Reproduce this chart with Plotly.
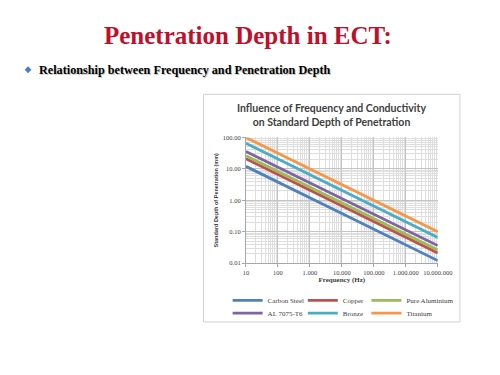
import plotly.graph_objects as go

# ---- data ----
frequency_hz = [10, 100, 1000, 10000, 100000, 1000000, 10000000]
carbon_steel = [12.0, 3.8, 1.2, 0.38, 0.12, 0.038, 0.012]
copper = [21.0, 6.6, 2.1, 0.66, 0.21, 0.066, 0.021]
pure_aluminium = [26.0, 8.2, 2.6, 0.82, 0.26, 0.082, 0.026]
al_7075_t6 = [36.0, 11.4, 3.6, 1.14, 0.36, 0.114, 0.036]
bronze = [65.0, 20.6, 6.5, 2.06, 0.65, 0.206, 0.065]
titanium = [100.0, 31.6, 10.0, 3.16, 1.0, 0.316, 0.1]

x_tickvals = [10, 100, 1000, 10000, 100000, 1000000, 10000000]
x_ticktext = ["10", "100", "1.000", "10.000", "100.000", "1.000.000", "10.000.000"]
y_tickvals = [0.01, 0.1, 1, 10, 100]
y_ticktext = ["0.01", "0.10", "1.00", "10.00", "100.00"]

series_names = ["Carbon Steel", "Copper", "Pure Aluminium", "AL 7075-T6", "Bronze", "Titanium"]
series_values = [carbon_steel, copper, pure_aluminium, al_7075_t6, bronze, titanium]
series_colors = ["#4F81BD", "#C0504D", "#9BBB59", "#8064A2", "#4BACC6", "#F79646"]

W, H = 500, 375
def px(x):
    return x / W
def py(y):
    return 1 - y / H

# legend grid: 3 columns x 2 rows (pixel anchors)
legend_cols = [233, 311, 377]
legend_rows = [302, 315]

fig = go.Figure()
legend_layouts = {}
serif = "Liberation Serif"
for i, (name, vals, color) in enumerate(zip(series_names, series_values, series_colors)):
    key = "legend" if i == 0 else f"legend{i + 1}"
    fig.add_trace(go.Scatter(
        x=frequency_hz, y=vals, mode="lines", name=name,
        line=dict(color=color, width=2.8), legend=key,
    ))
    legend_layouts[key] = dict(
        orientation="v", x=px(legend_cols[i % 3]), y=py(legend_rows[i // 3]),
        xanchor="left", yanchor="middle",
        font=dict(family=serif, size=7, color="#404040"),
        itemwidth=30, bgcolor="rgba(0,0,0,0)", borderwidth=0,
    )

tick_font = dict(family=serif, size=6.5, color="#404040")

fig.update_layout(
    width=W, height=H,
    margin=dict(l=0, r=0, t=0, b=0),
    paper_bgcolor="white", plot_bgcolor="white",
    showlegend=True,
    xaxis=dict(
        type="log", range=[1, 7], domain=[px(252), px(451)],
        tickvals=x_tickvals, ticktext=x_ticktext, tickfont=tick_font,
        showgrid=True, gridcolor="#c4c4c4", gridwidth=1,
        minor=dict(showgrid=True, gridcolor="#dedede", gridwidth=0.7, dtick="D1"),
        showline=True, linecolor="#a6a6a6", linewidth=1,
        ticks="outside", ticklen=3, tickcolor="#a6a6a6",
        title=dict(text="<b>Frequency (Hz)</b>", font=dict(family=serif, size=7, color="#404040"),
                   standoff=2),
        zeroline=False, anchor="y",
    ),
    yaxis=dict(
        type="log", range=[-2, 2], domain=[py(264), py(136)],
        tickvals=y_tickvals, ticktext=y_ticktext, tickfont=tick_font,
        showgrid=True, gridcolor="#c4c4c4", gridwidth=1,
        minor=dict(showgrid=True, gridcolor="#dedede", gridwidth=0.7, dtick="D1"),
        showline=True, linecolor="#a6a6a6", linewidth=1,
        ticks="outside", ticklen=3, tickcolor="#a6a6a6",
        title=dict(text="<b>Standard Depth of Penetration (mm)</b>",
                   font=dict(family="Liberation Sans", size=5.5, color="#404040"), standoff=3),
        zeroline=False, anchor="x",
    ),
    shapes=[
        # chart box border
        dict(type="rect", xref="paper", yref="paper",
             x0=px(208), x1=px(474), y0=py(324), y1=py(92),
             line=dict(color="#d0d0d0", width=1), fillcolor="rgba(0,0,0,0)", layer="below"),
        # bullet diamond
        dict(type="path", xref="paper", yref="paper",
             path=f"M {px(26)} {py(63.5)} L {px(29.5)} {py(67)} L {px(26)} {py(70.5)} L {px(22.5)} {py(67)} Z",
             fillcolor="#4A7EC8", line=dict(width=0)),
    ],
    annotations=[
        dict(text="<b>Penetration Depth in ECT:</b>", x=px(254), y=py(32), xref="paper", yref="paper",
             xanchor="center", yanchor="middle", showarrow=False,
             font=dict(family=serif, size=25, color="#C00F2A")),
        dict(text="<b>Relationship between Frequency and Penetration Depth</b>",
             x=px(35.8), y=py(67.8), xref="paper", yref="paper",
             xanchor="left", yanchor="middle", showarrow=False,
             font=dict(family=serif, size=12.2, color="#c8c8c8")),
        dict(text="<b>Relationship between Frequency and Penetration Depth</b>",
             x=px(35), y=py(67), xref="paper", yref="paper",
             xanchor="left", yanchor="middle", showarrow=False,
             font=dict(family=serif, size=12.2, color="#000000")),
        dict(text="<b>Influence of Frequency and Conductivity<br>on Standard Depth of Penetration</b>",
             x=px(341), y=py(113), xref="paper", yref="paper",
             xanchor="center", yanchor="middle", showarrow=False,
             font=dict(family="Lato", size=10.5, color="#404040")),
    ],
    **legend_layouts,
)

fig.write_html("out.html")
